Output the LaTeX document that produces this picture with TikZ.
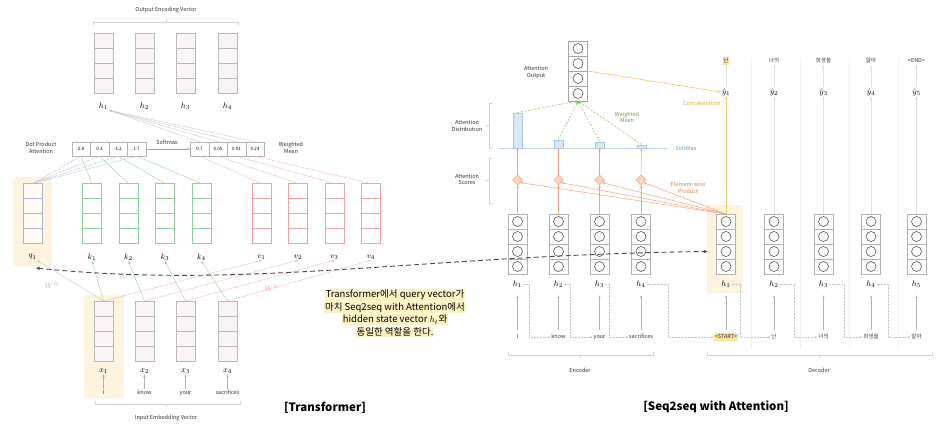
\documentclass[tikz,border=0pt]{standalone}
\usepackage{fontspec}
\setmainfont{Noto Sans CJK KR}
\usetikzlibrary{arrows.meta,calc,shapes.geometric}
\definecolor{hly}{HTML}{FDF3DF}
\definecolor{pinkbg}{HTML}{FBF4F6}
\definecolor{qcol}{HTML}{A9B7CF}
\definecolor{kcol}{HTML}{8ED19C}
\definecolor{vcol}{HTML}{F0A3A3}
\definecolor{annbg}{HTML}{FCF3C4}
\definecolor{startbg}{HTML}{FBE3A0}
\definecolor{orgline}{HTML}{F2A27E}
\definecolor{orgfill}{HTML}{FBD3C2}
\definecolor{barfill}{HTML}{D7E7F6}
\definecolor{barline}{HTML}{A9C8E8}
\definecolor{smblue}{HTML}{5B9BD5}
\definecolor{gcol}{HTML}{8DBF6A}
\definecolor{wmgreen}{HTML}{6E9E45}
\definecolor{ylwline}{HTML}{F5C56A}
\definecolor{concol}{HTML}{E0A93A}
\definecolor{ewcol}{HTML}{E57E55}
\newcommand{\mkvec}[5]{%
  \node[draw=#4, fill=#5, line width=0.5pt, minimum width=19pt, minimum height=60pt, inner sep=0pt, outer sep=0pt] (#1) at (#2,#3) {};
  \foreach \f in {0.25,0.5,0.75}{\draw[draw=#4, line width=0.5pt] ($(#1.north west)!\f!(#1.south west)$) -- ($(#1.north east)!\f!(#1.south east)$);}
}
\newcommand{\mkcirc}[1]{%
  \foreach \f/\k in {0.125/1,0.375/2,0.625/3,0.875/4}{\node[circle, draw=black!75, line width=0.5pt, minimum size=10pt, inner sep=0pt] (#1c\k) at ($(#1.north)!\f!(#1.south)$) {};}
}
\newcommand{\hlx}[1]{{\setlength{\fboxsep}{0.8pt}\colorbox{annbg}{#1}}}
\tikzset{
  lbl/.style={font=\fontsize{5.5}{6.5}\selectfont, inner sep=0.5pt, text=black!80},
  wlbl/.style={font=\fontsize{5.5}{6.5}\selectfont, inner sep=0.8pt, text=black!80, text height=4.2pt, text depth=1.3pt},
  mlbl/.style={font=\fontsize{8.5}{9}\selectfont, inner sep=0.8pt},
  myarr/.style={-{Stealth[length=3pt,width=2.4pt]}},
  brk/.style={draw=gray!35, line width=0.4pt},
  qln/.style={draw=qcol!80, line width=0.35pt},
  kln/.style={draw=kcol, line width=0.35pt},
  vln/.style={draw=vcol!80, line width=0.35pt},
  hln/.style={draw=gray!45, line width=0.35pt},
  gar/.style={draw=gray!60, line width=0.5pt, myarr},
  lgar/.style={draw=gray!25, line width=0.5pt, myarr},
  orng/.style={draw=orgline, line width=0.5pt, myarr},
  gdash/.style={draw=gcol, line width=0.5pt, dashed, dash pattern=on 2pt off 1.5pt, myarr},
  ylw/.style={draw=ylwline, line width=0.6pt, myarr},
  dotc/.style={draw=gray!45, line width=0.45pt, densely dotted, -{Stealth[length=2.5pt,width=2pt]}},
  cellst/.style={draw=gray!60, fill=white, line width=0.5pt, minimum width=18.5pt, minimum height=14pt, inner sep=0pt, font=\fontsize{4.5}{5}\selectfont},
  attbar/.style={draw=barline, fill=barfill, line width=0.5pt, minimum width=9pt, inner sep=0pt},
}
\begin{document}
\begin{tikzpicture}[x=1pt,y=-1pt]
\useasboundingbox (0,0) rectangle (942,431);
\fill[white] (0,0) rectangle (942,431);
% highlights
\fill[hly] (13,177) rectangle (52,267);
\fill[hly] (84,295) rectangle (124,398);
\fill[hly] (707,205) rectangle (743,293);
% faint decoder separators
\foreach \xx in {751,800,849,898} \draw[gray!10, line width=0.5pt] (\xx,58) -- (\xx,348);

%% ================= Transformer =================
\node[lbl] (oev) at (166,10) {Output Encoding Vector};
\draw[brk] (93,25) -- (93,22) -- (238,22) -- (238,25);
\draw[brk] (166,22) -- (166,19);
\foreach \i/\x in {1/103.5,2/144.5,3/185.5,4/227.5}{
  \mkvec{h\i}{\x}{63}{gray!55}{pinkbg}
  \node[mlbl] (hl\i) at (\x,106) {$h_{\i}$};
}
% scores and weights
\node[lbl, align=center] (dpa) at (41,148) {Dot Product\\Attention};
\foreach \i/\x/\t in {1/81/2.8,2/99.5/0.3,3/118/-1.2,4/136.5/1.7}
  \node[cellst] (s\i) at (\x,149) {\t};
\foreach \i/\x/\t in {1/199.5/0.7,2/218/0.05,3/236.5/0.01,4/255/0.23}
  \node[cellst] (w\i) at (\x,149) {\t};
\node[lbl] (smx) at (167,142) {Softmax};
\draw[gray!70, line width=0.5pt, myarr] (s4.east) -- (w1.west);
\node[lbl, align=center] (wm) at (291,148) {Weighted\\Mean};
% q k v
\mkvec{q1}{32.5}{213.5}{qcol}{hly!40!white}
\node[mlbl] (ql1) at (32.5,257) {$q_1$};
\foreach \i/\x in {1/92,2/128.5,3/165,4/201.5}{
  \mkvec{k\i}{\x}{213.5}{kcol}{white}
  \node[mlbl] (kl\i) at (\x,257) {$k_{\i}$};
}
\foreach \i/\x in {1/261.5,2/298,3/334.5,4/371}{
  \mkvec{v\i}{\x}{213.5}{vcol}{white}
  \node[mlbl] (vl\i) at (\x,257) {$v_{\i}$};
}
% input vectors
\foreach \i/\x/\w in {1/103.5/I,2/144.5/know,3/185.5/your,4/227.5/sacrifices}{
  \mkvec{x\i}{\x}{331}{gray!55}{pinkbg}
  \node[mlbl] (xl\i) at (\x,371) {$x_{\i}$};
  \node[wlbl] (xw\i) at (\x,393) {\w};
  \draw[gar] (xw\i.north) -- (xl\i.south);
}
\draw[brk] (95,401) -- (95,404) -- (240,404) -- (240,401);
\draw[brk] (166,404) -- (166,407);
\node[lbl] (iev) at (166,418) {Input Embedding Vector};
% attention lines
\foreach \i in {1,2,3,4}{
  \draw[qln] (s\i.south) -- (q1.north);
  \draw[kln] (s\i.south) -- (k\i.north);
  \draw[vln] (w\i.south) -- (v\i.north);
  \draw[hln, myarr] (w\i.north) -- (hl1.south east);
  \draw[kln, myarr] (x\i.north) -- (kl\i.south);
  \draw[vln, myarr] (x\i.north) -- (vl\i.south);
}
\draw[qln, myarr] (x1.north) -- (ql1.south east);
\node[font=\fontsize{7}{8}\selectfont, text=qcol] (wq) at (52,285) {$W^Q$};
\node[font=\fontsize{7}{8}\selectfont, text=kcol] (wk) at (127,276) {$W^K$};
\node[font=\fontsize{7}{8}\selectfont, text=vcol] (wv) at (272,288) {$W^V$};

%% ================= Seq2seq =================
% encoder
\foreach \i/\x/\w in {1/517.5/I,2/558.5/know,3/599.5/your,4/641/sacrifices}{
  \mkvec{e\i}{\x}{244}{gray!60}{white}
  \mkcirc{e\i}
  \node[mlbl] (el\i) at (\x,284) {$h_{\i}$};
  \node[wlbl] (enw\i) at (\x,337) {\w};
  \draw[gar, shorten <=3pt, shorten >=7pt] (enw\i.north) -- (el\i.south);
}
% decoder
\foreach \i/\x/\w/\t/\fa/\fb in {1/726/{<START>}/난/startbg/startbg,2/774/난/너의/none/none,3/823.5/너의/희생을/none/none,4/871/희생을/알아/none/none,5/916.5/알아/{<END>}/none/none}{
  \mkvec{dec\i}{\x}{244}{gray!60}{white}
  \mkcirc{dec\i}
  \node[mlbl] (decl\i) at (\x,284) {$h_{\i}$};
  \node[wlbl, fill=\fa] (dw\i) at (\x,337) {\w};
  \draw[gar, shorten <=3pt, shorten >=7pt] (dw\i.north) -- (decl\i.south);
  \node[mlbl] (y\i) at (\x,92) {$\hat{y}_{\i}$};
  \node[wlbl, fill=\fb] (tw\i) at (\x,61) {\t};
}
% dotted recurrences
\draw[dotc] (el1.east) -- ++(6,0) |- (enw2.west);
\draw[dotc] (el2.east) -- ++(6,0) |- (enw3.west);
\draw[dotc] (el3.east) -- ++(4,0) |- (enw4.west);
\draw[dotc] (el4.east) -- ++(22,0) |- (dw1.west);
\draw[dotc] (decl1.east) -- ++(9,0) |- (dw2.west);
\draw[dotc] (decl2.east) -- ++(15,0) |- (dw3.west);
\draw[dotc] (decl3.east) -- ++(15,0) |- (dw4.west);
\draw[dotc] (decl4.east) -- ++(12,0) |- (dw5.west);
% brackets
\draw[brk] (508,352) -- (508,355) -- (653,355) -- (653,352);
\draw[brk] (580,355) -- (580,358);
\node[lbl] (encl) at (580,370) {Encoder};
\draw[brk] (707,352) -- (707,355) -- (932,355) -- (932,352);
\draw[brk] (819,355) -- (819,358);
\node[lbl] (decl) at (819,370) {Decoder};
% attention output
\mkvec{att}{578}{71}{gray!70}{white}
\mkcirc{att}
\node[lbl, align=center] (ao) at (536,72.5) {Attention\\Output};
% distribution
\draw[barline!70, line width=0.5pt] (498,148) -- (668,148);
\node[lbl, text=smblue] (smx2) at (686,148) {SoftMax};
\foreach \i/\x/\h in {1/517.5/35pt,2/558.5/8pt,3/599.5/6pt,4/641.5/3pt}
  \node[attbar, minimum height=\h, anchor=south] (b\i) at (\x,148) {};
\foreach \i/\x in {1/517.5,2/558.5,3/599.5,4/641}
  \node[diamond, draw=orgline, fill=orgfill, line width=0.5pt, minimum size=10pt, inner sep=0pt] (d\i) at (\x,180) {};
\draw[brk] (492,103) -- (489,103) -- (489,148) -- (492,148);
\draw[brk] (489,125.5) -- (486,125.5);
\node[lbl, align=center] (adl) at (467,126) {Attention\\Distribution};
\draw[brk] (492,158) -- (489,158) -- (489,203) -- (492,203);
\draw[brk] (489,180.5) -- (486,180.5);
\node[lbl, align=center] (asl) at (467,179.5) {Attention\\Scores};
\node[lbl, align=center, text=wmgreen] (wml) at (627,117.5) {Weighted\\Mean};
\node[lbl, align=center, text=ewcol] (ewp) at (688,188) {Element-wise\\Product};
\node[lbl, text=concol] (ccl) at (702,103) {Concatenation};
\foreach \i in {1,2,3,4}{
  \draw[orng] (e\i.north) -- (d\i.south);
  \draw[orng] (d\i.north) -- (b\i.south);
  \draw[orng] (dec1.north) -- (d\i.south east);
  \draw[gdash] (b\i.north) -- (att.south);
}
\draw[ylw] (att.east) -- (y1.west);
\draw[ylw] (dec1.north) -- (y1.south);
\foreach \i in {2,3,4,5} \draw[lgar] (dec\i.north) -- (y\i.south);
\foreach \i in {1,2,3,4,5} \draw[lgar] (y\i.north) -- (tw\i.south);

% big dashed link
\coordinate (qtip) at (36,268);
\coordinate (dtip) at ($(dec1.north west)!0.625!(dec1.south west)+(-9,0)$);
\draw[black!70, line width=0.9pt, dash pattern=on 5pt off 3pt, {Stealth[length=4pt,width=3.5pt]}-{Stealth[length=4pt,width=3.5pt]}] (qtip) .. controls (250,290) and (420,255) .. (dtip);

% annotation and titles
\node[font=\fontsize{9.5}{12.5}\selectfont, align=center, inner sep=0pt] (ann) at (395,313) {\hlx{Transformer에서 query vector가}\\\hlx{마치 Seq2seq with Attention에서}\\\hlx{hidden state vector $h_t$와}\\\hlx{동일한 역할을 한다.}};
\node[font=\bfseries\fontsize{11.5}{13}\selectfont] (tt) at (325,408) {[Transformer]};
\node[font=\bfseries\fontsize{11.5}{13}\selectfont] (st) at (716,407) {[Seq2seq with Attention]};
\end{tikzpicture}
\end{document}
